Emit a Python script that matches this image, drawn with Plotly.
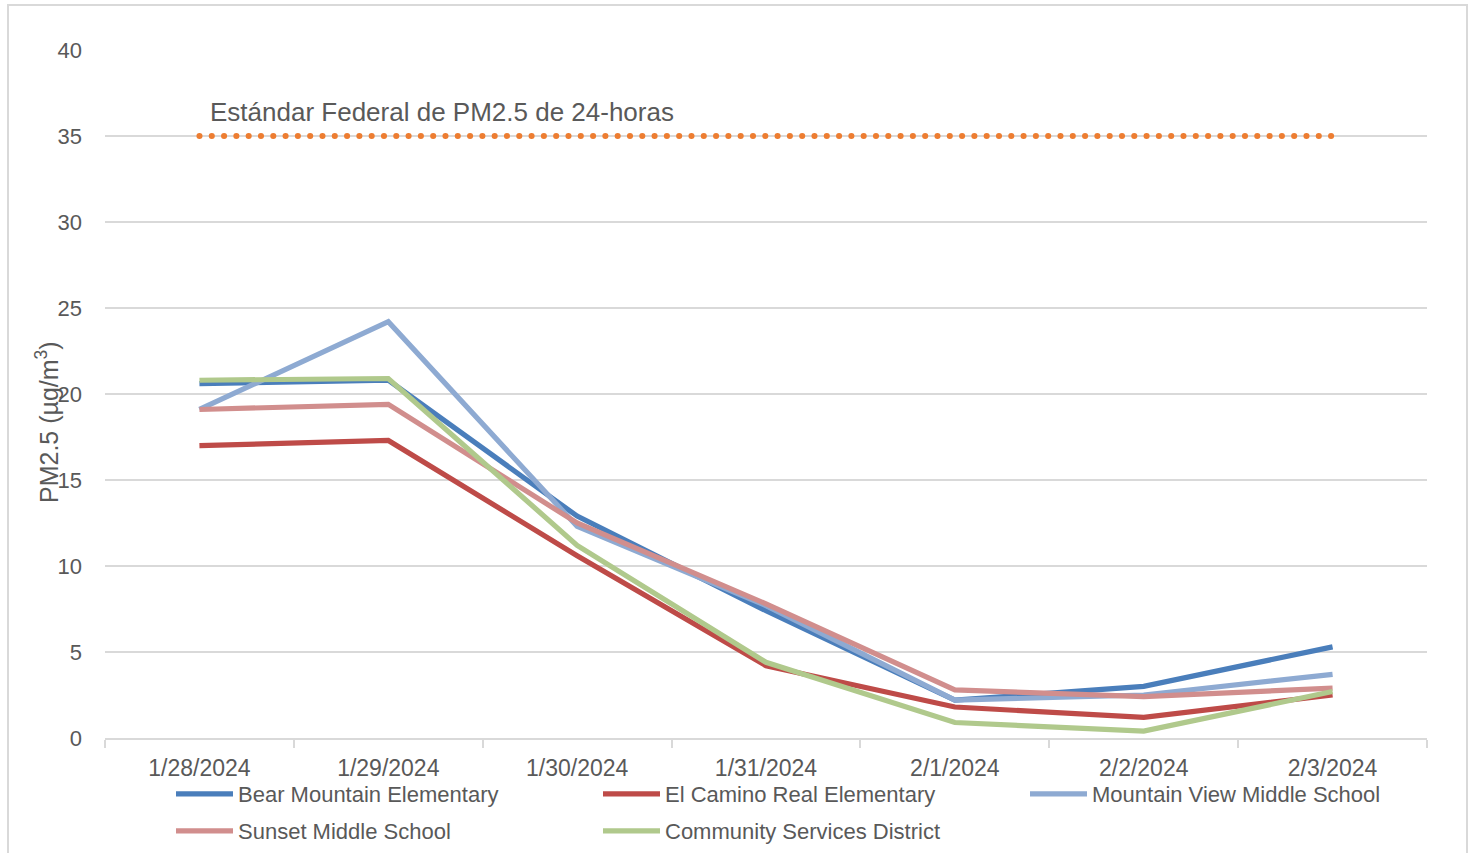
import plotly.graph_objects as go

dates = ["1/28/2024", "1/29/2024", "1/30/2024", "1/31/2024", "2/1/2024", "2/2/2024", "2/3/2024"]
bear_mountain = [20.6, 20.8, 12.9, 7.4, 2.2, 3.0, 5.3]
el_camino = [17.0, 17.3, 10.6, 4.2, 1.8, 1.2, 2.5]
mountain_view = [19.1, 24.2, 12.3, 7.7, 2.2, 2.5, 3.7]
sunset = [19.1, 19.4, 12.5, 7.8, 2.8, 2.4, 2.9]
community = [20.8, 20.9, 11.2, 4.4, 0.9, 0.4, 2.7]
federal_standard = [35, 35, 35, 35, 35, 35, 35]

# name, values, colour, legend
series = [
    ("Bear Mountain Elementary", bear_mountain, "#4a7ebb", "legend"),
    ("El Camino Real Elementary", el_camino, "#be4b48", "legend"),
    ("Mountain View Middle School", mountain_view, "#8eaad2", "legend"),
    ("Sunset Middle School", sunset, "#d18e8d", "legend2"),
    ("Community Services District", community, "#b0c98c", "legend2"),
]

FONT = "Liberation Sans, Arial, sans-serif"
TXT = "#595959"
GRID = "#d9d9d9"
ENTRY_W = 355

fig = go.Figure()
fig.add_trace(go.Scatter(
    x=dates, y=federal_standard, mode="lines", showlegend=False,
    line=dict(color="#ed7d31", width=5, dash="5.5px,6.8px"), hoverinfo="skip"))
for name, vals, col, leg in series:
    fig.add_trace(go.Scatter(x=dates, y=vals, mode="lines", name=name,
                             legend=leg, legendwidth=ENTRY_W,
                             line=dict(color=col, width=5.2)))

L, R, T, B = 105, 46, 50, 115
W, H = 1473, 853
pw, ph = W - L - R, H - T - B

def px_x(p):
    return (p - L) / pw

def px_y(p):
    return (H - B - p) / ph

legend_common = dict(orientation="h", xanchor="left", yanchor="top",
                     itemwidth=57, font=dict(size=22, color=TXT),
                     bgcolor="rgba(0,0,0,0)", traceorder="normal")

fig.update_layout(
    width=W, height=H,
    margin=dict(l=L, r=R, t=T, b=B, autoexpand=False),
    paper_bgcolor="white", plot_bgcolor="white",
    font=dict(family=FONT, color=TXT, size=22),
    xaxis=dict(type="category", range=[-0.5, 6.5], tickson="boundaries",
               ticks="outside", ticklen=8, tickcolor=GRID, tickwidth=1.5,
               showline=True, linecolor=GRID, linewidth=1.5, showgrid=False,
               tickfont=dict(size=23, color=TXT), ticklabelstandoff=9),
    yaxis=dict(range=[0, 40], dtick=5, showgrid=True, gridcolor=GRID, gridwidth=1.5,
               zeroline=False, showline=False, ticks="",
               tickfont=dict(size=22, color=TXT), ticklabelstandoff=22),
    legend=dict(x=px_x(171), y=px_y(773), **legend_common),
    legend2=dict(x=px_x(171), y=px_y(810), **legend_common),
    showlegend=True,
)

fig.add_annotation(text="Estándar Federal de PM2.5 de 24-horas", xref="paper", yref="paper",
                   x=px_x(208), y=px_y(112), xanchor="left", yanchor="middle",
                   showarrow=False, font=dict(size=26, color=TXT))
fig.add_annotation(text="PM2.5 (µg/m<sup>3</sup>)", xref="paper", yref="paper",
                   x=px_x(47), y=px_y(422), xanchor="center", yanchor="middle",
                   textangle=-90, showarrow=False, font=dict(size=25, color=TXT))

fig.add_shape(type="rect", xref="paper", yref="paper",
              x0=px_x(8), x1=px_x(1467), y0=px_y(870), y1=px_y(5),
              line=dict(color=GRID, width=2), fillcolor="rgba(0,0,0,0)", layer="below")

post = """
document.body.style.margin='0';document.body.style.padding='0';
document.body.style.overflow='hidden';
try {
  var gd = document.getElementById('{plot_id}');
  var tr = gd.querySelectorAll('.scatterlayer .trace')[0];
  var p = tr ? tr.querySelector('path.js-line') : null;
  if (p) {
    p.style.strokeLinecap = 'round';
    p.style.strokeDasharray = '0.1px,12.2px';
    p.style.strokeWidth = '6px';
  }
} catch (e) {}
"""

fig.write_html("out.html", post_script=post, config={"displayModeBar": False})
